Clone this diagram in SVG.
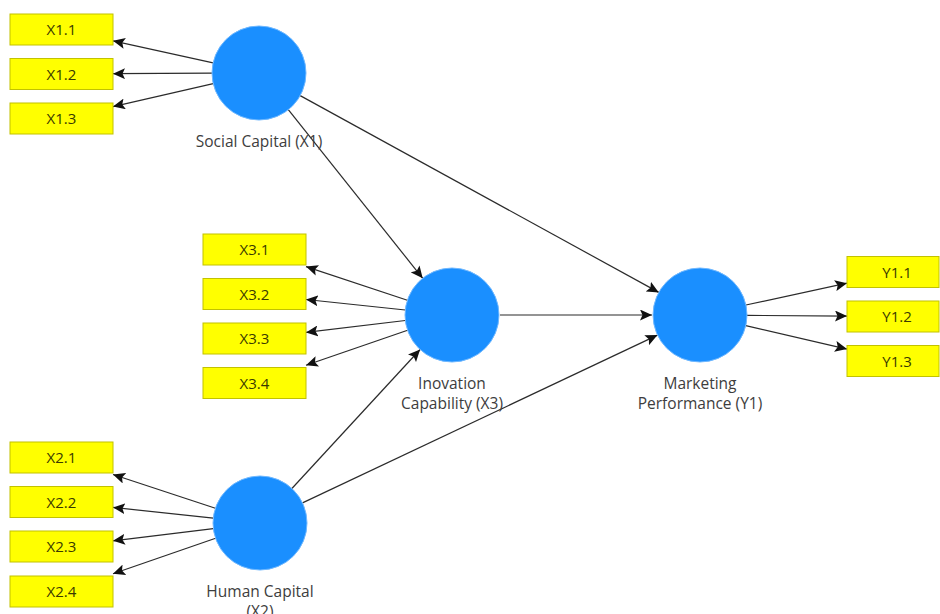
<svg xmlns="http://www.w3.org/2000/svg" width="940" height="614" viewBox="0 0 940 614">
  <defs>
    <marker id="arrow" markerUnits="userSpaceOnUse" markerWidth="13" markerHeight="11" refX="12" refY="5.5" orient="auto">
      <path d="M0,0 L12,5.5 L0,11 L2.5,5.5 Z" fill="#111"/>
    </marker>
  </defs>
  <style>
    .bg { fill: #ffffff; }
    .ind rect { fill: #ffff00; stroke: #c2c200; stroke-width: 1; }
    .ind text { font-family: "Open Sans", "Noto Sans", sans-serif; font-size: 15px; fill: #3a3a00; text-anchor: middle; }
    .lat circle { fill: #1a8fff; stroke: #6fb8ff; stroke-width: 1; }
    .lat text { font-family: "Open Sans", "Noto Sans", sans-serif; font-size: 15.5px; fill: #3d3d3d; text-anchor: middle; }
    .edges line { stroke: #2b2b2b; stroke-width: 1.2; marker-end: url(#arrow); }
  </style>
  <rect class="bg" x="0" y="0" width="940" height="614"/>

  <!-- connectors (drawn under the nodes) -->
  <g id="connectors" class="edges">
    <!-- Social Capital indicators -->
    <line x1="213.1" y1="62.9" x2="113" y2="40.8"/>
    <line x1="212" y1="73.2" x2="113" y2="73.7"/>
    <line x1="213.2" y1="83.6" x2="113" y2="106.6"/>
    <!-- Inovation Capability indicators -->
    <line x1="407.4" y1="300.2" x2="306" y2="266.6"/>
    <line x1="405.3" y1="310" x2="306" y2="299.5"/>
    <line x1="405.3" y1="320.5" x2="306" y2="332.4"/>
    <line x1="407.6" y1="330.3" x2="306" y2="365.3"/>
    <!-- Human Capital indicators -->
    <line x1="215.4" y1="508.3" x2="113" y2="474.5"/>
    <line x1="213.3" y1="518.1" x2="113" y2="507.4"/>
    <line x1="213.3" y1="528.6" x2="113" y2="540.8"/>
    <line x1="215.6" y1="538.3" x2="113" y2="573.7"/>
    <!-- Marketing Performance indicators -->
    <line x1="745.9" y1="305" x2="847" y2="283.2"/>
    <line x1="747" y1="315.4" x2="847" y2="316.1"/>
    <line x1="745.8" y1="325.6" x2="847" y2="349.1"/>
    <!-- structural paths -->
    <line x1="288.3" y1="109.6" x2="422.7" y2="278.3"/>
    <line x1="300.2" y1="95.6" x2="658.8" y2="292.4"/>
    <line x1="500" y1="315" x2="652" y2="315"/>
    <line x1="291.9" y1="488.5" x2="420.1" y2="349.5"/>
    <line x1="302.5" y1="502.9" x2="657.5" y2="335.1"/>
  </g>

  <!-- latent variables -->
  <g id="social-capital" class="lat">
    <circle cx="259" cy="73" r="47"/>
    <text x="259" y="147">Social Capital (X1)</text>
  </g>
  <g id="inovation-capability" class="lat">
    <circle cx="452" cy="315" r="47"/>
    <text x="452" y="389">Inovation</text>
    <text x="452" y="409">Capability (X3)</text>
  </g>
  <g id="human-capital" class="lat">
    <circle cx="260" cy="523" r="47"/>
    <text x="260" y="597">Human Capital</text>
    <text x="260" y="617">(X2)</text>
  </g>
  <g id="marketing-performance" class="lat">
    <circle cx="700" cy="315" r="47"/>
    <text x="700" y="389">Marketing</text>
    <text x="700" y="409">Performance (Y1)</text>
  </g>

  <!-- indicators -->
  <g id="x1-1" class="ind"><rect x="10" y="14" width="103" height="31"/><text x="61.5" y="35">X1.1</text></g>
  <g id="x1-2" class="ind"><rect x="10" y="58.5" width="103" height="31"/><text x="61.5" y="79.5">X1.2</text></g>
  <g id="x1-3" class="ind"><rect x="10" y="103" width="103" height="31"/><text x="61.5" y="124">X1.3</text></g>

  <g id="x3-1" class="ind"><rect x="203" y="234" width="103" height="31"/><text x="254.5" y="255">X3.1</text></g>
  <g id="x3-2" class="ind"><rect x="203" y="278.5" width="103" height="31"/><text x="254.5" y="299.5">X3.2</text></g>
  <g id="x3-3" class="ind"><rect x="203" y="323" width="103" height="31"/><text x="254.5" y="344">X3.3</text></g>
  <g id="x3-4" class="ind"><rect x="203" y="367.5" width="103" height="31"/><text x="254.5" y="388.5">X3.4</text></g>

  <g id="x2-1" class="ind"><rect x="10" y="442" width="103" height="31"/><text x="61.5" y="463">X2.1</text></g>
  <g id="x2-2" class="ind"><rect x="10" y="486.5" width="103" height="31"/><text x="61.5" y="507.5">X2.2</text></g>
  <g id="x2-3" class="ind"><rect x="10" y="531" width="103" height="31"/><text x="61.5" y="552">X2.3</text></g>
  <g id="x2-4" class="ind"><rect x="10" y="576" width="103" height="31"/><text x="61.5" y="597">X2.4</text></g>

  <g id="y1-1" class="ind"><rect x="847" y="256.5" width="92" height="31"/><text x="897" y="277.5">Y1.1</text></g>
  <g id="y1-2" class="ind"><rect x="847" y="301" width="92" height="31"/><text x="897" y="322">Y1.2</text></g>
  <g id="y1-3" class="ind"><rect x="847" y="345.5" width="92" height="31"/><text x="897" y="366.5">Y1.3</text></g>
</svg>
